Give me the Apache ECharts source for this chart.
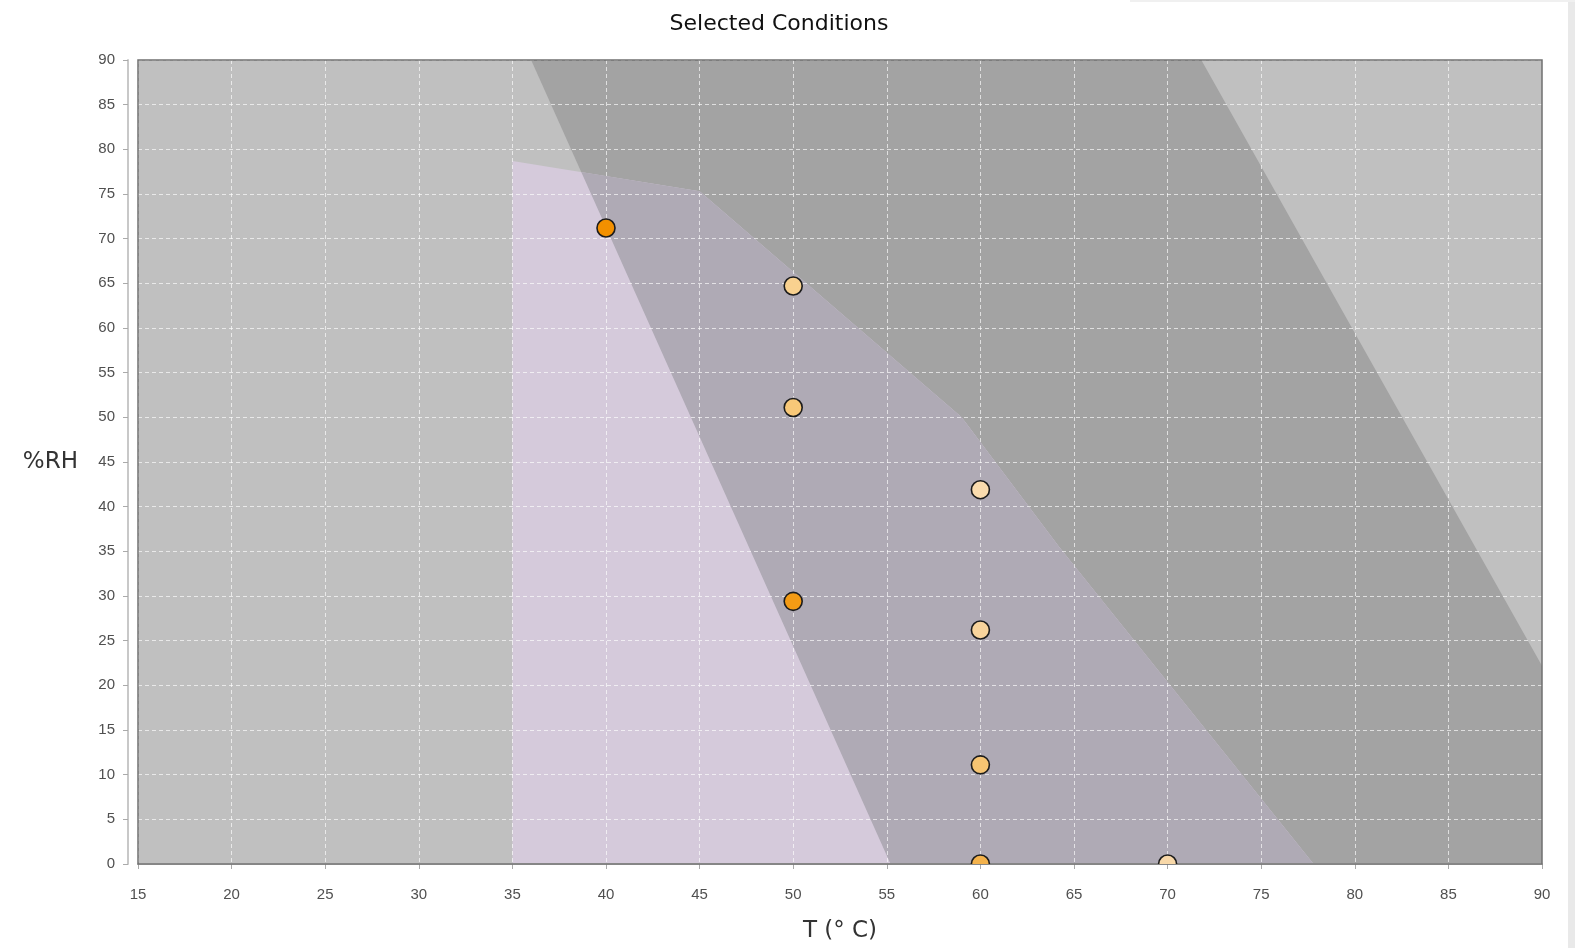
<!DOCTYPE html>
<html>
<head>
<meta charset="utf-8">
<title>Selected Conditions</title>
<script src="https://cdn.jsdelivr.net/npm/echarts@6/dist/echarts.min.js"></script>
<style>
  html, body { margin: 0; padding: 0; background: #fff; }
  #chart { width: 1575px; height: 948px; }
</style>
</head>
<body>
<div id="chart"></div>
<script>
// axis ranges
var tMin = 15, tMax = 90, rhMin = 0, rhMax = 90;

// dark grey band (T, %RH)
var bandT  = [36, 71.8, 90, 90, 55.2];
var bandRH = [90, 90, 22.2, 0, 0];

// light purple zone (T, %RH)
var zoneT  = [35, 35, 45, 59, 64.2, 77.8];
var zoneRH = [0, 78.7, 75.3, 50, 35.5, 0];

// selected conditions
var condT  = [40, 50, 50, 50, 60, 60, 60, 60, 70];
var condRH = [71.2, 64.7, 51.1, 29.4, 41.9, 26.2, 11.1, 0, 0];
var condColors = ['#f39000', '#f9d18f', '#f8c878', '#f49b14', '#fadcae',
                  '#f8d49c', '#f6c472', '#f3b24c', '#f8d8a8'];

function pairs(xs, ys) {
    return xs.map(function (x, i) { return [x, ys[i]]; });
}

// clip polygon "subject" against convex polygon "clip" (Sutherland-Hodgman)
function clipPoly(subject, clip) {
    var out = subject;
    for (var i = 0; i < clip.length; i++) {
        var a = clip[i], b = clip[(i + 1) % clip.length];
        var inp = out; out = [];
        var side = function (p) {
            return (b[0] - a[0]) * (p[1] - a[1]) - (b[1] - a[1]) * (p[0] - a[0]);
        };
        var sign = side(clip[(i + 2) % clip.length]) > 0 ? 1 : -1;
        for (var j = 0; j < inp.length; j++) {
            var p = inp[j], q = inp[(j + 1) % inp.length];
            var sp = side(p) * sign, sq = side(q) * sign;
            if (sp >= 0) out.push(p);
            if ((sp >= 0) !== (sq >= 0)) {
                var k = sp / (sp - sq);
                out.push([p[0] + k * (q[0] - p[0]), p[1] + k * (q[1] - p[1])]);
            }
        }
    }
    return out;
}

var band = pairs(bandT, bandRH);
var zone = pairs(zoneT, zoneRH);
var overlap = clipPoly(zone, band);

function polySeries(data, color, z) {
    return {
        type: 'custom',
        silent: true,
        clip: true,
        z: z,
        data: data,
        encode: { x: 0, y: 1 },
        renderItem: function (params, api) {
            if (params.dataIndex !== 0) return;
            var pts = data.map(function (d) { return api.coord(d); });
            return { type: 'polygon', shape: { points: pts }, style: { fill: color } };
        }
    };
}

var chart = echarts.init(document.getElementById('chart'));

var labelStyle = { color: '#505050', fontSize: 15, fontFamily: 'Liberation Sans' };
var splitStyle = { color: 'rgba(255,255,255,0.65)', type: [4, 3], width: 1 };

var option = {
    backgroundColor: '#fff',
    animation: false,
    title: {
        text: 'Selected Conditions',
        left: 774,
        textAlign: 'center',
        top: 8,
        textStyle: { fontSize: 22, fontWeight: 'normal', color: '#111', fontFamily: 'DejaVu Sans' }
    },
    grid: {
        left: 138, right: 33, top: 60, bottom: 83,
        show: true,
        backgroundColor: '#c0c0c0',
        borderWidth: 0
    },
    xAxis: {
        type: 'value',
        min: tMin, max: tMax, interval: 5,
        offset: 8,
        z: 3,
        name: 'T (° C)',
        nameLocation: 'middle',
        nameGap: 48,
        nameTextStyle: { fontSize: 23, color: '#333', fontFamily: 'DejaVu Sans' },
        axisLine: { show: true, lineStyle: { color: '#c8c8c8', width: 2 } },
        axisTick: { show: true, length: 5, lineStyle: { color: '#aaa' } },
        axisLabel: Object.assign({ margin: 15 }, labelStyle),
        splitLine: { show: true, lineStyle: splitStyle }
    },
    yAxis: {
        type: 'value',
        min: rhMin, max: rhMax, interval: 5,
        offset: 10,
        z: 3,
        name: '%RH',
        nameLocation: 'middle',
        nameRotate: 0,
        nameGap: 50,
        nameTextStyle: { fontSize: 23, color: '#333', fontFamily: 'DejaVu Sans' },
        axisLine: { show: true, lineStyle: { color: '#c8c8c8', width: 2 } },
        axisTick: { show: true, length: 5, lineStyle: { color: '#aaa' } },
        axisLabel: Object.assign({ margin: 13 }, labelStyle),
        splitLine: { show: true, lineStyle: splitStyle }
    },
    series: [
        polySeries(band, '#a3a3a3', 1),
        polySeries(zone, '#d5cadb', 1),
        polySeries(overlap, '#afaab5', 1),
        {
            // plot frame
            type: 'custom',
            silent: true,
            z: 4,
            data: [[tMin, rhMin]],
            renderItem: function (params, api) {
                var cs = params.coordSys;
                return {
                    type: 'rect',
                    shape: { x: cs.x, y: cs.y, width: cs.width, height: cs.height },
                    style: { fill: 'none', stroke: '#707070', lineWidth: 1.5 }
                };
            }
        },
        {
            type: 'custom',
            silent: true,
            clip: true,
            z: 5,
            data: pairs(condT, condRH),
            encode: { x: 0, y: 1 },
            renderItem: function (params, api) {
                var p = api.coord([api.value(0), api.value(1)]);
                return {
                    type: 'circle',
                    shape: { cx: p[0], cy: p[1], r: 9 },
                    style: { fill: condColors[params.dataIndex], stroke: '#1c1c1c', lineWidth: 1.6 }
                };
            }
        }
    ],
    graphic: [
        { type: 'rect', right: 0, top: 0, shape: { width: 7, height: 948 }, style: { fill: '#e9e9e9' }, silent: true },
        { type: 'rect', right: 0, top: 0, shape: { width: 445, height: 2 }, style: { fill: '#f0f0f0' }, silent: true }
    ]
};

chart.setOption(option);
</script>
</body>
</html>
